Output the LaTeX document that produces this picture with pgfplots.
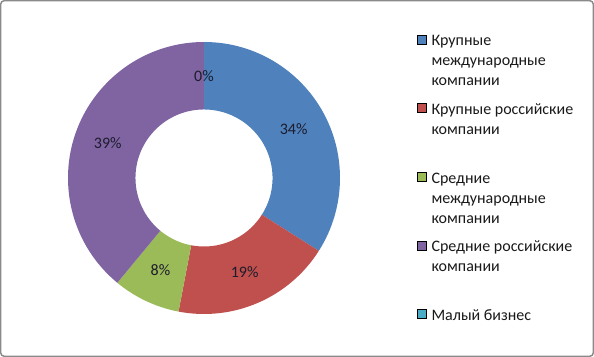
\documentclass[border=0pt]{standalone}
\usepackage{pgfplots}
\usepackage{pgfplotstable}
\pgfplotsset{compat=1.18}
\usepackage{fontspec}
\setmainfont{Carlito}
\definecolor{c0}{HTML}{4F81BD}
\definecolor{c1}{HTML}{C0504D}
\definecolor{c2}{HTML}{9BBB59}
\definecolor{c3}{HTML}{8064A2}
\definecolor{c4}{HTML}{4BACC6}
\definecolor{labcol}{HTML}{1C1C2C}
\definecolor{framecol}{HTML}{8A8A8A}
\pgfplotstableread{
idx value
0 34
1 19
2 8
3 39
4 0
}\shares
\begin{document}
\begin{tikzpicture}[font=\fontsize{12}{15}\selectfont]
\begin{axis}[
  name=ax,
  hide axis, scale only axis, clip=false,
  x=0.75pt, y=0.75pt,
  xmin=0, xmax=594, ymin=0, ymax=357,
  legend image code/.code={\fill[#1] (0pt,1.5pt) rectangle (6.75pt,8.25pt);},
  legend style={
    at={(0.702,0.905)}, anchor=north west,
    draw=none, fill=none, inner sep=0pt, outer sep=0pt,
    column sep=3.75pt, row sep=0pt,
    nodes={inner sep=0pt, outer sep=0pt, text height=9pt, text depth=42.5pt, text=black!90},
    cells={anchor=base west},
    font=\fontsize{12}{15}\selectfont,
  },
]
\draw[framecol, line width=1.1pt, rounded corners=2.5pt]
  (axis cs:0.75,0.75) rectangle (axis cs:593.25,356.25);
\pgfplotsextra{
  \gdef\acc{0}
  \foreach \i in {0,...,4}{
    \pgfplotstablegetelem{\i}{value}\of\shares
    \let\v\pgfplotsretval
    \pgfmathsetmacro\sa{90-3.6*\acc}
    \pgfmathsetmacro\ea{90-3.6*(\acc+\v)}
    \pgfmathsetmacro\mid{(\sa+\ea)/2}
    \pgfmathsetmacro\newacc{\acc+\v}
    \xdef\acc{\newacc}
    \fill[c\i] ([shift={(\sa:102pt)}]axis cs:204,179)
       arc[start angle=\sa, end angle=\ea, radius=102pt]
       -- ([shift={(\ea:51.4pt)}]axis cs:204,179)
       arc[start angle=\ea, end angle=\sa, radius=51.4pt] -- cycle;
    \node[text=labcol, font=\fontsize{12}{15}\selectfont]
      at ([shift={(\mid:76.7pt)}]axis cs:204,179) {\v\%};
  }
}
\addlegendimage{fill=c0}
\addlegendentry{\begin{tabular}[t]{@{}l@{}}Крупные\\международные\\компании\end{tabular}}
\addlegendimage{fill=c1}
\addlegendentry{\begin{tabular}[t]{@{}l@{}}Крупные российские\\компании\end{tabular}}
\addlegendimage{fill=c2}
\addlegendentry{\begin{tabular}[t]{@{}l@{}}Средние\\международные\\компании\end{tabular}}
\addlegendimage{fill=c3}
\addlegendentry{\begin{tabular}[t]{@{}l@{}}Средние российские\\компании\end{tabular}}
\addlegendimage{fill=c4}
\addlegendentry{\begin{tabular}[t]{@{}l@{}}Малый бизнес\end{tabular}}
\end{axis}
\pgfresetboundingbox
\path (ax.south west) rectangle (ax.north east);
\end{tikzpicture}
\end{document}
